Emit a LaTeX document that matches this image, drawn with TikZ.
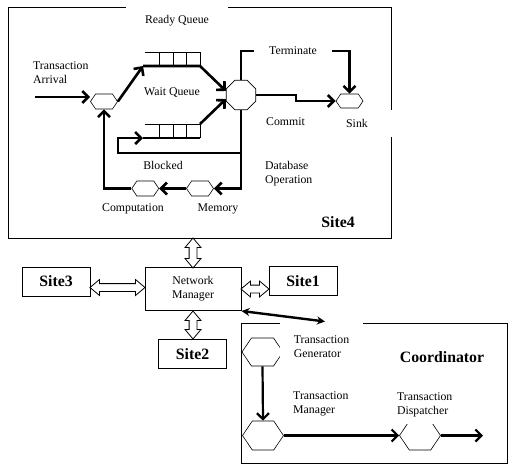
\documentclass[tikz,border=0pt]{standalone}
\usepackage{fontspec}
\setmainfont{Liberation Serif}
\usetikzlibrary{arrows.meta,calc,shapes.geometric,shapes.symbols,shapes.arrows}

\tikzset{
  txt/.style={font=\fontsize{11.8}{14}\selectfont, inner sep=0pt, align=left},
  big/.style={font=\fontsize{15.8}{18}\selectfont\bfseries, inner sep=0pt},
  site/.style={draw, line width=1pt, big, minimum width=68pt, minimum height=29pt},
  frame/.style={draw, line width=1pt, inner sep=0pt, anchor=north west},
  hexa/.style={signal, signal to=west and east, signal pointer angle=112,
    draw, line width=0.6pt, inner sep=0pt, minimum width=27pt, minimum height=15pt},
  bighexa/.style={hexa, minimum width=41pt, minimum height=29pt},
  cell/.style={line width=0.6pt},
  flow/.style={line width=2.6pt, -{Straight Barb[length=6pt,width=12pt]}},
  cflow/.style={line width=2.2pt, -{Straight Barb[length=6pt,width=12pt]}},
  link/.style={double arrow, draw, line width=0.8pt, inner sep=3.5pt,
    double arrow head extend=4pt, double arrow tip angle=80},
}

\begin{document}
\begin{tikzpicture}[x=1pt, y=-1pt]
  \useasboundingbox (0,0) rectangle (510,464);

  % frames of site 4 and the coordinator
  \node[frame, minimum width=383pt, minimum height=231pt] (s4) at (8,7) {};
  \node[frame, minimum width=266pt, minimum height=140pt] (co) at (241,323) {};

  % site 4: queues, router and servers
  \node[hexa] (hin) at (104,101.5) {};
  \node[regular polygon, regular polygon sides=8, draw, line width=0.6pt,
        minimum size=32pt, inner sep=0pt] (rt) at (241,95) {};
  \node[hexa, minimum height=14pt] (sk) at (349.5,101) {};
  \node[hexa] (comp) at (145.3,188.5) {};
  \node[hexa] (mem) at (200,188.5) {};

  \foreach \q in {52,124} {
    \draw[cell] (145,\q) -- (200,\q);
    \foreach \x in {159,173,186,200}
      \draw[cell] (\x,\q) -- (\x,\q+14);
  }

  \coordinate (arr) at (35,97);
  \coordinate (rqin) at (143,66);
  \coordinate (rqout) at (200,66);
  \coordinate (wqin) at (143,138);
  \coordinate (wqend) at (200,138);
  \coordinate (wqout) at (200,124);
  \coordinate (bl) at (118,153);
  \coordinate (tm) at (349.5,51);
  \coordinate (cm) at (296,95);

  \draw[flow] (arr) -- (arr -| hin.west);
  \draw[flow] (hin.east) -- (rqin);
  \draw[flow] (rqin) -- (rqout) -- (rt.165);
  \draw[line width=2.6pt] (wqin) -- (wqend);
  \draw[flow] (wqout) -- (rt.195);
  \draw[flow] (rt.north) |- (tm) -- (sk.north);
  \draw[flow] (rt.east) -- (cm) |- (sk.west);
  \draw[flow] (rt.south) |- (mem.east);
  \draw[flow] (rt.south |- bl) -- (bl) |- (wqin);
  \draw[flow] (mem.west) -- (comp.east);
  \draw[flow] (comp.west) -| (hin.south);

  \node[txt, anchor=west] at (33,72.5) {Transaction\\Arrival};
  \node[txt, fill=white, minimum width=102pt, minimum height=36pt] at (177,21) {Ready Queue};
  \node[txt] at (172,93) {Wait Queue};
  \node[txt] at (163,165) {Blocked};
  \node[txt] at (133,209) {Computation};
  \node[txt] at (218,209) {Memory};
  \node[txt, fill=white, minimum width=78pt, minimum height=20pt] at (293,51) {Terminate};
  \node[txt, anchor=west] at (266,122) {Commit};
  \node[txt, fill=white, minimum width=72pt, minimum height=27pt] at (357,123.5) {Sink};
  \node[txt, anchor=west] at (265,173.5) {Database\\Operation};
  \node[big] at (338,222) {Site4};

  % the other sites round the network manager
  \node[draw, line width=1pt, txt, align=center, minimum width=96pt,
        minimum height=43pt] (nm) at (193,289) {Network\\Manager};
  \node[site] (s3) at (56,281.5) {Site3};
  \node[site] (s1) at (303,281) {Site1};
  \node[site] (s2) at (192.5,354) {Site2};

  \node[link, rotate=90, minimum height=30pt] (l4) at ($(s4.south -| nm.north)!0.5!(nm.north)$) {};
  \node[link, minimum height=55pt] (l3) at ($(s3.east |- 0,287.5)!0.5!(nm.west |- 0,287.5)$) {};
  \node[link, minimum height=28pt] (l1) at ($(nm.east |- 0,289)!0.5!(s1.west |- 0,289)$) {};
  \node[link, rotate=90, minimum height=28pt] (l2) at ($(nm.south)!0.5!(nm.south |- s2.north)$) {};

  % coordinator
  \node[bighexa, minimum height=28pt] (gen) at (262.5,352) {};
  \node[bighexa] (mgr) at (263,435.5) {};
  \node[bighexa] (dsp) at (420,435.5) {};
  \coordinate (out) at (483,435.5);

  \draw[cflow] (gen.south) -- (mgr.north);
  \draw[cflow] (mgr.east) -- (dsp.west);
  \draw[cflow] (dsp.east) -- (out);

  \node[txt, fill=white, minimum width=83pt, minimum height=52pt] at (321.5,346.5) {Transaction\\Generator};
  \node[txt, anchor=west] at (293,403.7) {Transaction\\Manager};
  \node[txt, fill=white, minimum width=60pt, minimum height=39pt] at (424.7,404.5) {Transaction\\Dispatcher};
  \node[big] at (442,357) {Coordinator};

  \coordinate (cl) at (325,321.5);
  \draw[line width=2.4pt, {Stealth[length=8pt,width=8pt]}-{Stealth[length=8pt,width=8pt]}] (nm.south east) -- (cl);
\end{tikzpicture}
\end{document}
